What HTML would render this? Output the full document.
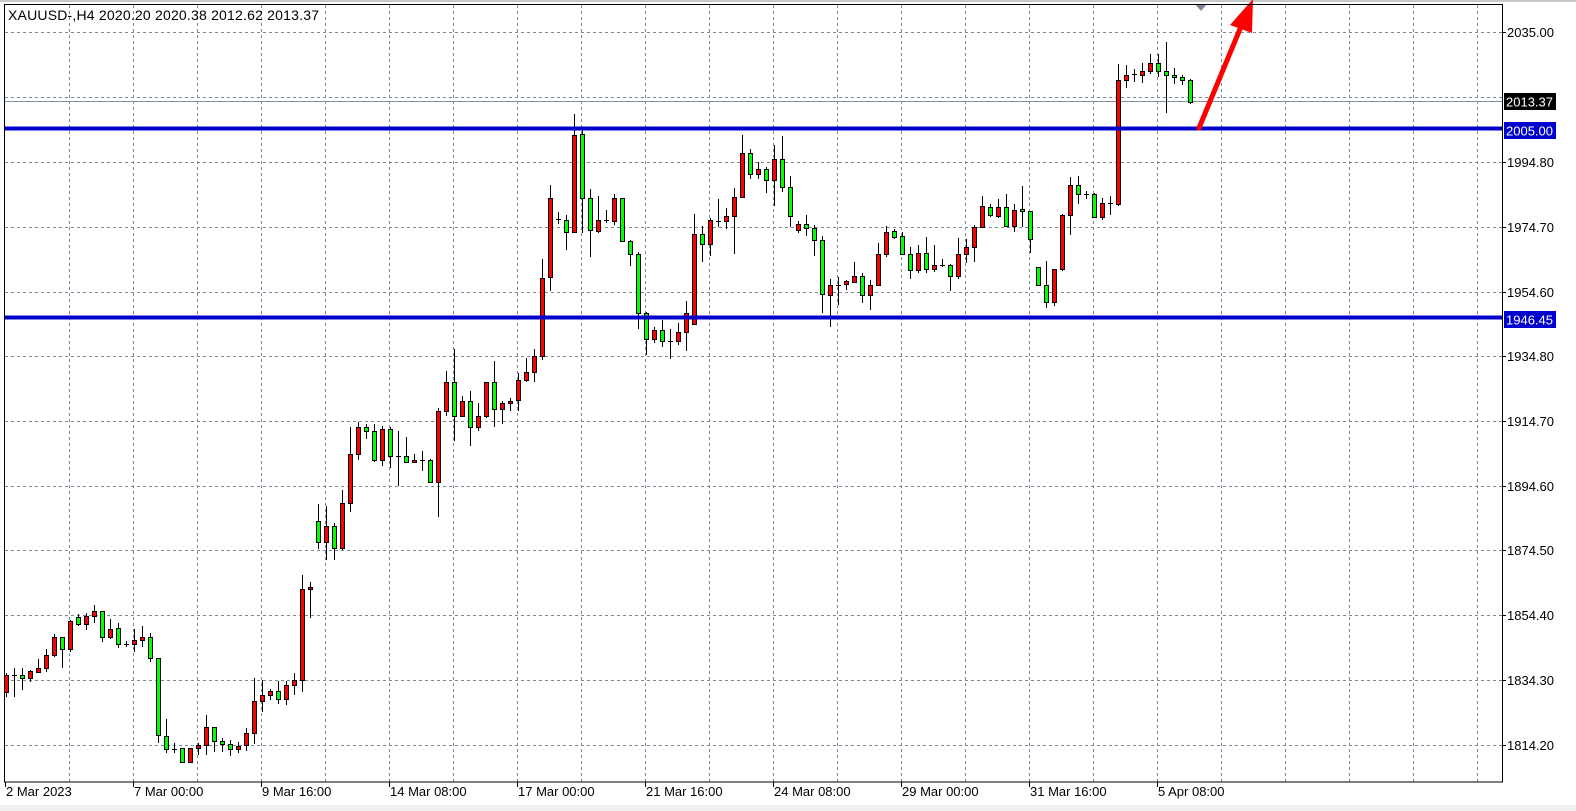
<!DOCTYPE html>
<html><head><meta charset="utf-8"><style>
html,body{margin:0;padding:0;background:#fff;}
svg{display:block;}
text{font-family:"Liberation Sans",sans-serif;font-size:13px;fill:#000;}
</style></head><body>
<svg id="s" width="1576" height="811" xmlns="http://www.w3.org/2000/svg">
<rect x="0" y="0" width="1576" height="811" fill="#fff"/>
<rect x="0" y="0" width="1576" height="2" fill="#c8c8c8"/>
<rect x="0" y="805" width="1576" height="6" fill="#f0f0f0"/>
<g id="grid" stroke="#7a8796" stroke-width="1" stroke-dasharray="3,3"></g>
<line x1="4" y1="101.5" x2="1502" y2="101.5" stroke="#8090a0" stroke-width="1"/>
<g id="candles"></g>
<rect x="4" y="126.5" width="1498" height="4" fill="#0000cc"/>
<rect x="4" y="315.5" width="1498" height="4" fill="#0000cc"/>
<polygon points="1195,4 1207,4 1201,11" fill="#7a8796"/>
<line x1="1199" y1="128" x2="1240" y2="29" stroke="#ff0000" stroke-width="5" stroke-linecap="round"/>
<polygon points="1253,-1 1230,25 1252,33" fill="#ff0000"/>
<rect x="4.5" y="4.5" width="1498" height="777.5" fill="none" stroke="#000" stroke-width="1"/>
<text x="8" y="20" style="font-size:14px;letter-spacing:0.2px">XAUUSD-,H4  2020.20 2020.38 2012.62 2013.37</text>
<g id="axis"></g>
<rect x="1504" y="93" width="52" height="17" fill="#000"/>
<text x="1506" y="106.5" style="fill:#fff">2013.37</text>
<rect x="1504" y="122" width="52" height="17" fill="#0000cc"/>
<text x="1506" y="135.5" style="fill:#fff">2005.00</text>
<rect x="1504" y="311" width="52" height="17" fill="#0000cc"/>
<text x="1506" y="324.5" style="fill:#fff">1946.45</text>
</svg>
<script>
var NS="http://www.w3.org/2000/svg";
function el(p,t,a){var e=document.createElementNS(NS,t);for(var k in a)e.setAttribute(k,a[k]);p.appendChild(e);return e;}
var grid=document.getElementById('grid'),ax=document.getElementById('axis'),cg=document.getElementById('candles');
for(var x=69;x<1502;x+=64){el(grid,'line',{x1:x+.5,y1:5,x2:x+.5,y2:782});}
var ys=[32,97,162,227,292,356,421,486,550,615,680,745];
ys.forEach(function(y){el(grid,'line',{x1:5,y1:y+.5,x2:1502,y2:y+.5});});
var pl=[[32,"2035.00"],[162,"1994.80"],[227,"1974.70"],[292,"1954.60"],[356,"1934.80"],[421,"1914.70"],[486,"1894.60"],[550,"1874.50"],[615,"1854.40"],[680,"1834.30"],[745,"1814.20"]];
pl.forEach(function(p){el(ax,'line',{x1:1502,y1:p[0]+.5,x2:1506,y2:p[0]+.5,stroke:'#000'});var t=el(ax,'text',{x:1507,y:p[0]+5});t.textContent=p[1];});
var tl=[[5,"2 Mar 2023"],[133,"7 Mar 00:00"],[261,"9 Mar 16:00"],[389,"14 Mar 08:00"],[517,"17 Mar 00:00"],[645,"21 Mar 16:00"],[773,"24 Mar 08:00"],[901,"29 Mar 00:00"],[1029,"31 Mar 16:00"],[1157,"5 Apr 08:00"]];
tl.forEach(function(p){el(ax,'line',{x1:p[0]+.5,y1:782,x2:p[0]+.5,y2:787,stroke:'#000'});var t=el(ax,'text',{x:p[0]+1,y:796});t.textContent=p[1];});
var g1=[[345,395,340,410,'r'],[345,345,325,410,'d'],[345,355,325,390,'g'],[333,355,330,365,'r'],[325,337,297,337,'r'],[286,325,268,335,'r'],[232,286,222,290,'r'],[232,268,230,323,'g'],[184,268,180,277,'r'],[172,193,163,197,'g'],[169,193,160,209,'r'],[154,169,135,190,'r'],[154,232,152,245,'g'],[208,232,178,237,'r'],[205,253,190,265,'g'],[253,253,242,260,'d'],[241,253,208,275,'r'],[232,241,199,262,'r'],[232,295,220,305,'g'],[295,525,295,550,'g'],[529,568,478,580,'g'],[566,566,548,578,'d'],[565,607,565,610,'g'],[565,607,565,607,'r'],[556,565,550,585,'r'],[502,556,465,585,'r'],[502,544,502,575,'g'],[544,553,535,577,'g'],[553,568,540,587,'g'],[559,568,547,580,'r'],[520,556,505,572,'r'],[424,520,354,553,'r'],[406,424,360,455,'r'],[394,406,387,420,'r'],[394,418,364,432,'g'],[376,418,364,435,'r'],[361,376,340,405,'r'],[88,361,45,395,'r'],[82,88,66,175,'r']];
var g2=[[574,637,522,657,'g'],[589,637,528,690,'r'],[589,653,580,690,'g'],[520,653,480,660,'r'],[373,520,290,545,'r'],[292,373,277,390,'r'],[292,304,282,326,'g'],[304,391,282,395,'g'],[298,391,288,407,'r'],[298,379,290,414,'g'],[379,379,303,467,'d'],[379,397,321,397,'g'],[391,397,373,397,'r'],[391,391,363,422,'d'],[391,455,387,458,'g'],[244,455,234,560,'r'],[157,244,123,257,'r'],[157,257,57,332,'g'],[214,257,198,262,'r'],[214,292,183,347,'g'],[259,292,219,303,'r'],[157,259,157,265,'r'],[157,238,93,290,'g'],[220,238,214,281,'r'],[213,220,205,242,'r'],[151,211,129,242,'r'],[127,151,84,155,'r'],[79,125,57,155,'r']];
var g3=[[278,356,259,360,'r'],[198,277,185,291,'r'],[219,219,212,224,'d'],[220,232,215,250,'g'],[135,232,114,233,'r'],[134,198,127,233,'g'],[198,230,189,257,'g'],[220,231,196,233,'r'],[220,220,210,223,'d'],[198,221,194,225,'r'],[198,241,198,241,'g'],[241,254,240,266,'g'],[254,313,252,329,'g'],[313,339,312,355,'g'],[330,339,327,343,'r'],[330,341,320,347,'g'],[341,341,329,359,'d'],[332,341,323,345,'r'],[313,332,301,351,'r'],
[234,324,214,324,'r'],[234,244,226,262,'g'],[220,244,218,256,'r'],[221,221,199,227,'d'],[216,221,208,229,'r'],[197,216,188,254,'r'],[153,197,135,198,'r'],[153,174,149,179,'g'],[169,174,162,179,'r'],[169,180,167,193,'g'],[159,180,145,206,'r'],[159,187,136,192,'g'],[187,216,176,227,'g'],[224,230,221,233,'r'],[224,228,215,236,'g'],[228,240,225,256,'g'],[240,294,236,313,'g'],[285,295,279,327,'r'],[285,285,277,305,'d'],[281,284,280,290,'r'],[276,282,262,283,'r'],[276,295,273,303,'g'],[285,295,280,310,'r'],[254,285,243,285,'r'],[232,254,226,257,'r'],[231,237,229,239,'g'],[236,254,232,255,'g'],[254,270,247,279,'g'],[253,270,245,273,'r'],
[253,269,237,273,'g'],[265,269,245,272,'r'],[265,265,259,267,'d'],[265,276,264,291,'g'],[254,276,238,279,'r'],[247,254,239,263,'r'],[227,247,225,262,'r'],[206,227,196,227,'r'],[207,215,204,217,'g'],[207,216,199,218,'r'],[207,226,194,227,'g'],[210,226,204,232,'r'],[209,211,186,227,'g'],[211,239,211,253,'g'],[267,285,267,285,'g'],[285,302,261,308,'g'],[269,302,269,306,'r'],[215,269,214,271,'r'],[185,215,177,235,'r'],[185,194,176,204,'g'],[194,194,191,199,'d'],[194,217,193,218,'g'],[203,217,198,220,'r'],[203,203,196,215,'d'],[80,204,64,206,'r'],[75,80,65,88,'r'],[74,74,69,82,'d'],[71,75,63,83,'r'],[63,71,54,74,'r'],[63,71,54,77,'g'],[71,75,42,113,'g'],[75,77,68,84,'g'],[77,80,75,85,'g'],[80,102,79,104,'g']];
var all=[];
g1.forEach(function(c){all.push(c.map(function(v,i){return i<4?560+v/3:v;}));});
g2.forEach(function(c){all.push(c.map(function(v,i){return i<4?330+v/3:v;}));});
g3.forEach(function(c){all.push(c);});
all.forEach(function(c,k){
  var x=6+8*k, cx=x+.5;
  var t=Math.round(c[0]),b=Math.round(c[1]),wt=Math.round(c[2]),wb=Math.round(c[3]);
  el(cg,'line',{x1:cx,y1:wt,x2:cx,y2:wb,stroke:'#000','stroke-width':1});
  if(c[4]=='d'||b-t<2){
    el(cg,'line',{x1:x-2,y1:t+.5,x2:x+3,y2:t+.5,stroke:'#000','stroke-width':(c[4]=='d'?1:2)});
  } else {
    el(cg,'rect',{x:x-1.5,y:t+.5,width:4,height:b-t,fill:(c[4]=='r'?'#ff0000':'#00ff00'),stroke:'#000','stroke-width':1});
  }
});
</script>
</body></html>
